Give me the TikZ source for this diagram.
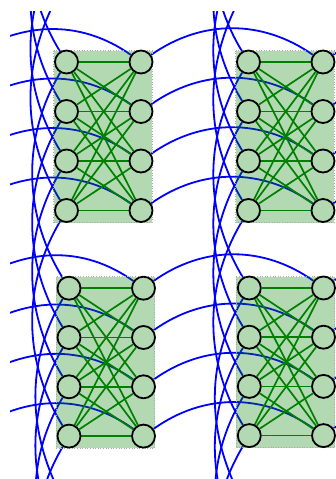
\documentclass[tikz,border=0pt]{standalone}
\usetikzlibrary{calc}
\definecolor{mgreen}{RGB}{0,128,0}
\definecolor{nodefill}{RGB}{179,217,179}
\definecolor{rimgray}{RGB}{170,170,170}
\pgfdeclarelayer{bg}
\pgfdeclarelayer{pan}
\pgfdeclarelayer{edg}
\pgfsetlayers{bg,pan,edg,main}
\begin{document}
\begin{tikzpicture}[x=1pt,y=-1pt,
  unit/.style={circle,draw=black,line width=1.8pt,fill=nodefill,minimum size=23pt,inner sep=0pt},
  link/.style={blue,line width=1.8pt},
  wire/.style={mgreen,line width=1.7pt},
  panel/.style={fill=mgreen,fill opacity=0.3,draw=rimgray,dotted,line width=0.6pt}]
\useasboundingbox (0,0) rectangle (335,479);
% real blocks
\foreach \c/\r/\lx/\rx/\yo/\dy in {b/q/66.5/141/62/49.5, c/q/248.5/323/62/49.5, b/s/69/143.5/288.2/49.3, c/s/249.3/323.5/288/49.2}{
  \foreach \i in {1,...,4}{
    \node[unit] (L\c\r\i) at (\lx,{\yo+(\i-1)*\dy}) {};
    \node[unit] (R\c\r\i) at (\rx,{\yo+(\i-1)*\dy}) {};
  }
}
% off-picture neighbours
\foreach \c/\r/\lx/\yo/\dy in {b/p/64/-164/49.5, c/p/247.7/-164/49.5, b/t/71.5/514.2/49.3, c/t/250/514/49.2}{
  \foreach \i in {1,...,4}{
    \coordinate (L\c\r\i) at (\lx,{\yo+(\i-1)*\dy});
  }
}
\foreach \c/\r/\rx/\yo/\dy in {a/q/-41/62/49.5, a/s/-36.5/288.2/49.3, d/q/505/62/49.5, d/s/503.5/288/49.2}{
  \foreach \i in {1,...,4}{
    \coordinate (R\c\r\i) at (\rx,{\yo+(\i-1)*\dy});
  }
}
% blue links
\begin{pgfonlayer}{bg}
\begin{scope}
\clip (10,11) rectangle (336,480);
\foreach \x/\y in {a/b,b/c,c/d}{
  \foreach \r in {q,s}{
    \foreach \i in {1,...,4}{
      \draw[link] (R\x\r\i) .. controls ($(R\x\r\i)!1/3!(R\y\r\i)+(0,-42.7)$) and ($(R\x\r\i)!2/3!(R\y\r\i)+(0,-42.7)$) .. (R\y\r\i);
    }
  }
}
\foreach \c in {b,c}{
  \foreach \x/\y in {p/q,q/s,s/t}{
    \foreach \i in {1,...,4}{
      \draw[link] (L\c\x\i) .. controls ($(L\c\x\i)!1/3!(L\c\y\i)+(-45.3,0)$) and ($(L\c\x\i)!2/3!(L\c\y\i)+(-45.3,0)$) .. (L\c\y\i);
    }
  }
}
\end{scope}
\end{pgfonlayer}
% panels
\begin{pgfonlayer}{pan}
\foreach \c/\r in {b/q,c/q,b/s,c/s}{
  \path[panel] ($(L\c\r1)+(-13,-11.5)$) rectangle ($(R\c\r4)+(11,12)$);
}
\end{pgfonlayer}
% green edges
\begin{pgfonlayer}{edg}
\foreach \c/\r in {b/q,c/q,b/s,c/s}{
  \foreach \i in {1,...,4}{
    \foreach \j in {1,...,4}{
      \draw[wire] (L\c\r\i) -- (R\c\r\j);
    }
  }
}
\end{pgfonlayer}
\end{tikzpicture}
\end{document}
